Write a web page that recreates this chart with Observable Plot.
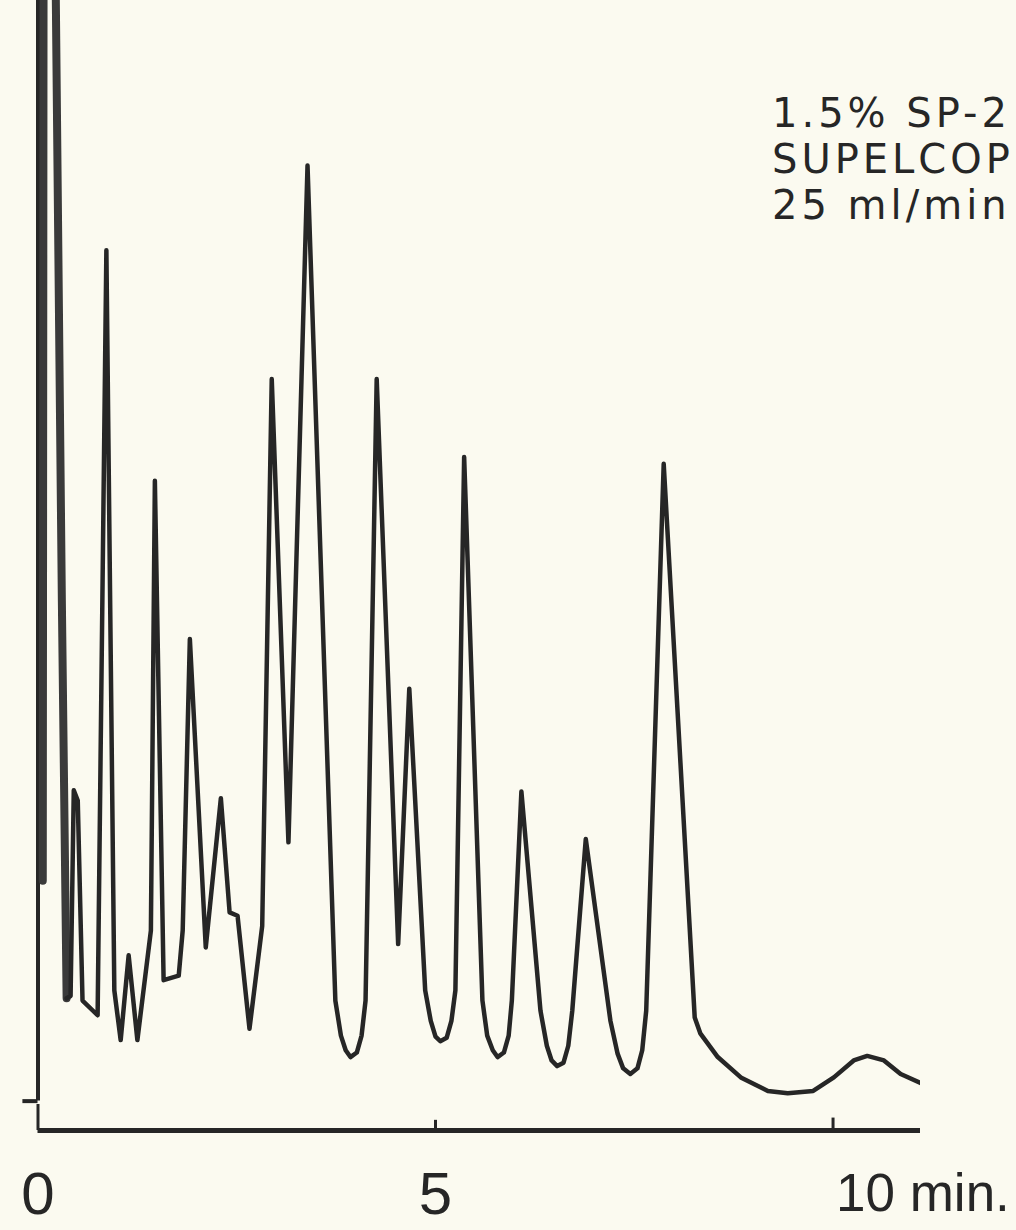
<!DOCTYPE html>
<html><head><meta charset="utf-8">
<script src="https://cdn.jsdelivr.net/npm/d3@7"></script>
<script src="https://cdn.jsdelivr.net/npm/@observablehq/plot@0.6"></script>
<style>
html,body{margin:0;padding:0;background:#fbfaf0;overflow:hidden;}
#chart svg{display:block;}
</style></head><body><div id="chart"></div>
<script>
// retention time (min) and detector response (arbitrary units, 0 = axis line)
const times = [0.06,0.07,0.22,0.30,0.36,0.41,0.45,0.50,0.56,0.75,0.86,0.96,1.04,1.14,1.25,1.42,1.47,1.58,1.77,1.82,1.91,2.11,2.30,2.41,2.51,2.66,2.82,2.94,3.15,3.39,3.74,3.81,3.87,3.93,4.01,4.07,4.12,4.26,4.53,4.67,4.87,4.94,5.00,5.06,5.14,5.20,5.25,5.36,5.59,5.65,5.72,5.78,5.86,5.92,5.96,6.08,6.32,6.40,6.46,6.53,6.61,6.67,6.72,6.89,7.20,7.29,7.36,7.45,7.54,7.60,7.65,7.87,8.26,8.33,8.55,8.84,9.18,9.43,9.75,10.01,10.26,10.43,10.64,10.85,11.10];
const responses = [22.1,103,103,46.9,11.7,11.9,30.1,29.2,11.5,10.2,77.9,12.4,8.0,15.5,8.0,17.7,57.5,13.3,13.7,17.7,43.5,16.2,29.4,19.3,19.0,9.0,18.1,66.5,25.5,85.4,11.5,8.4,7.1,6.5,6.9,8.4,11.5,66.5,16.5,39.1,12.4,9.7,8.3,7.9,8.2,9.7,12.4,59.6,11.5,8.4,7.1,6.5,6.9,8.4,11.5,30.0,10.6,7.5,6.2,5.7,6.0,7.5,10.6,25.8,9.7,6.8,5.5,5.0,5.5,7.1,10.6,59.0,10.0,8.6,6.5,4.7,3.5,3.3,3.5,4.7,6.2,6.6,6.2,5.0,4.2];
const tickValues = [0, 5, 10];
const tickLabels = ["0", "5", "10 min."];
// column annotation, as far as it is visible at the page edge
const annotationLines = ["1.5% SP-2", "SUPELCOP", "25 ml/min"];
const xEnd = 11.1;
const baselineLevel = 2.6;
const solventPoints = 5; // first points belong to the solvent front

const trace = times.map((t, i) => ({t, r: responses[i]}));
const ticks = tickValues.map((v, i) => ({v, label: tickLabels[i]}));
const ink = "#262626";
const tickLen = {0: 2.3, 5: 0.9, 10: 1.1};

const plot = Plot.plot({
  width: 1016, height: 1230,
  marginLeft: 37.5, marginRight: 96, marginTop: 0, marginBottom: 100,
  x: {domain: [0, xEnd], axis: null},
  y: {domain: [0, 100], axis: null},
  style: {background: "#fbfaf0", overflow: "hidden"},
  marks: [
    Plot.ruleY([0], {x1: 0, x2: xEnd, stroke: ink, strokeWidth: 5}),
    Plot.ruleX(ticks, {x: "v", y1: 0, y2: d => tickLen[d.v], stroke: ink, strokeWidth: 3}),
    Plot.ruleX([0], {y1: baselineLevel, y2: 110, stroke: ink, strokeWidth: 4}),
    Plot.ruleY([baselineLevel], {x1: -0.19, x2: 0, stroke: ink, strokeWidth: 4}),
    Plot.line(trace, {filter: (d, i) => i < solventPoints, x: "t", y: "r", stroke: "#3a3a3a", strokeWidth: 8, strokeLinejoin: "round", strokeLinecap: "round", clip: true}),
    Plot.line(trace, {filter: (d, i) => i >= solventPoints - 1, x: "t", y: "r", stroke: ink, strokeWidth: 4.5, strokeLinejoin: "round", strokeLinecap: "round", clip: true}),
    Plot.text(ticks, {filter: d => d.v < 10, x: "v", text: "label", frameAnchor: "bottom", dy: 64, lineAnchor: "middle", textAnchor: "middle", fontSize: 60, fontFamily: "Liberation Sans", fill: ink}),
    Plot.text(ticks, {filter: d => d.v === 10, x: "v", text: "label", frameAnchor: "bottom", dy: 64, dx: 3, lineAnchor: "middle", textAnchor: "start", fontSize: 53, fontFamily: "Liberation Sans", fill: ink}),
    Plot.text([annotationLines.join("\n")], {frameAnchor: "top-left", dx: 734, dy: 94, textAnchor: "start", lineAnchor: "top", lineHeight: 1.15, fontSize: 40, fontFamily: "DejaVu Sans", fill: ink})
  ]
});
d3.select(plot).selectAll("text").each(function() {
  if (this.textContent.includes(annotationLines[1])) d3.select(this).style("letter-spacing", "4px");
});
document.getElementById("chart").appendChild(plot);
</script>
</body></html>
